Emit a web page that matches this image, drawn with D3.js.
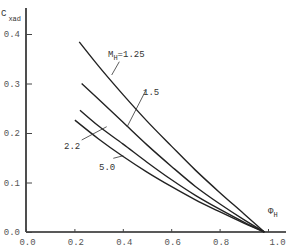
<!DOCTYPE html>
<html><head><meta charset="utf-8">
<script src="https://cdn.jsdelivr.net/npm/d3@7"></script>
<style>body{margin:0;background:#fff}svg{display:block}</style>
</head><body>
<svg id="c" width="300" height="252"></svg>
<script>
const xTicks = [0.0, 0.2, 0.4, 0.6, 0.8, 1.0];
const yTicks = [0.0, 0.1, 0.2, 0.3, 0.4];
const seriesNames = ["1.25", "1.5", "2.2", "5.0"];
const phi125 = [0.22, 0.3, 0.4, 0.5, 0.6, 0.7, 0.8, 0.9, 0.985];
const cx125 = [0.384, 0.335, 0.278, 0.224, 0.174, 0.125, 0.080, 0.037, 0.0];
const phi15 = [0.23, 0.3, 0.4, 0.5, 0.6, 0.7, 0.8, 0.9, 0.985];
const cx15 = [0.300, 0.268, 0.222, 0.176, 0.133, 0.092, 0.057, 0.025, 0.0];
const phi22 = [0.223, 0.3, 0.4, 0.5, 0.6, 0.7, 0.8, 0.9, 0.985];
const cx22 = [0.246, 0.214, 0.178, 0.141, 0.106, 0.074, 0.046, 0.020, 0.0];
const phi50 = [0.202, 0.3, 0.4, 0.5, 0.6, 0.7, 0.8, 0.9, 0.985];
const cx50 = [0.226, 0.188, 0.153, 0.121, 0.092, 0.065, 0.041, 0.018, 0.0];

const svg = d3.select("#c");
const x = d3.scaleLinear().domain([0, 1]).range([26, 268]);
const y = d3.scaleLinear().domain([0, 0.4]).range([232, 34]);
const ink = "#222";
const font = "'Liberation Mono', 'DejaVu Sans Mono', monospace";

// axes lines
svg.append("line").attr("x1", x(0)).attr("x2", x(0)).attr("y1", 8).attr("y2", y(0))
  .attr("stroke", ink).attr("stroke-width", 1.6);
svg.append("line").attr("x1", x(0)).attr("x2", 286).attr("y1", y(0)).attr("y2", y(0))
  .attr("stroke", ink).attr("stroke-width", 1.6);

// y ticks
const yAxis = d3.axisRight(y).tickValues(yTicks).tickSize(6).tickFormat(d3.format(".1f"));
const gy = svg.append("g").attr("transform", `translate(${x(0)},0)`).call(yAxis);
gy.select(".domain").remove();
gy.selectAll(".tick line").attr("stroke", "#444");
gy.selectAll(".tick text").attr("x", -6).attr("text-anchor", "end")
  .attr("font-family", font).attr("font-size", 9).attr("fill", "#555");

// x ticks
const xAxis = d3.axisBottom(x).tickValues(xTicks).tickSize(3).tickFormat(d3.format(".1f"));
const gx = svg.append("g").attr("transform", `translate(0,${y(0)})`).call(xAxis);
gx.select(".domain").remove();
gx.selectAll(".tick line").attr("y1", 0).attr("y2", -3).attr("stroke", "#444");
gx.selectAll(".tick text").attr("y", 7).attr("font-family", font).attr("font-size", 9).attr("fill", "#555")
  .attr("dx", (d) => d === 1.0 ? 9 : 1);

// curves
const line = d3.line().x(d => x(d[0])).y(d => y(d[1])).curve(d3.curveMonotoneX);
const series = [[phi125, cx125], [phi15, cx15], [phi22, cx22], [phi50, cx50]];
series.forEach(([px, py]) => {
  svg.append("path").datum(px.map((v, i) => [v, py[i]])).attr("d", line)
    .attr("fill", "none").attr("stroke", ink).attr("stroke-width", 1.4);
});

// leaders
const leaders = [[119.3, 61.7, 111.7, 75], [146, 90, 127, 127], [81.7, 140, 106.7, 126.7], [113.3, 158.3, 123.3, 155.7]];
leaders.forEach(l => svg.append("line").attr("x1", l[0]).attr("y1", l[1]).attr("x2", l[2]).attr("y2", l[3])
  .attr("stroke", "#333").attr("stroke-width", 0.8));

// labels
const lab = svg.append("text").attr("x", 108).attr("y", 57).attr("font-family", font).attr("font-size", 9).attr("fill", "#333");
lab.append("tspan").text("M");
lab.append("tspan").attr("dy", 3).attr("font-size", 7).text("H");
lab.append("tspan").attr("dy", -3).text("=" + seriesNames[0]);
svg.append("text").attr("x", 143).attr("y", 95).attr("font-family", font).attr("font-size", 9).attr("fill", "#333").text(seriesNames[1]);
svg.append("text").attr("x", 64).attr("y", 149).attr("font-family", font).attr("font-size", 9).attr("fill", "#333").text(seriesNames[2]);
svg.append("text").attr("x", 99).attr("y", 170).attr("font-family", font).attr("font-size", 9).attr("fill", "#333").text(seriesNames[3]);

// axis titles
const yt = svg.append("text").attr("x", 1).attr("y", 16).attr("font-family", font).attr("font-size", 9).attr("fill", "#333");
yt.append("tspan").text("C");
yt.append("tspan").attr("dx", 2).attr("dy", 5).attr("font-size", 7).text("xad");
const xt = svg.append("text").attr("x", 268).attr("y", 214).attr("font-family", font).attr("font-size", 9).attr("fill", "#333");
xt.append("tspan").text("Φ");
xt.append("tspan").attr("dy", 3).attr("font-size", 7).text("H");
</script>
</body></html>
